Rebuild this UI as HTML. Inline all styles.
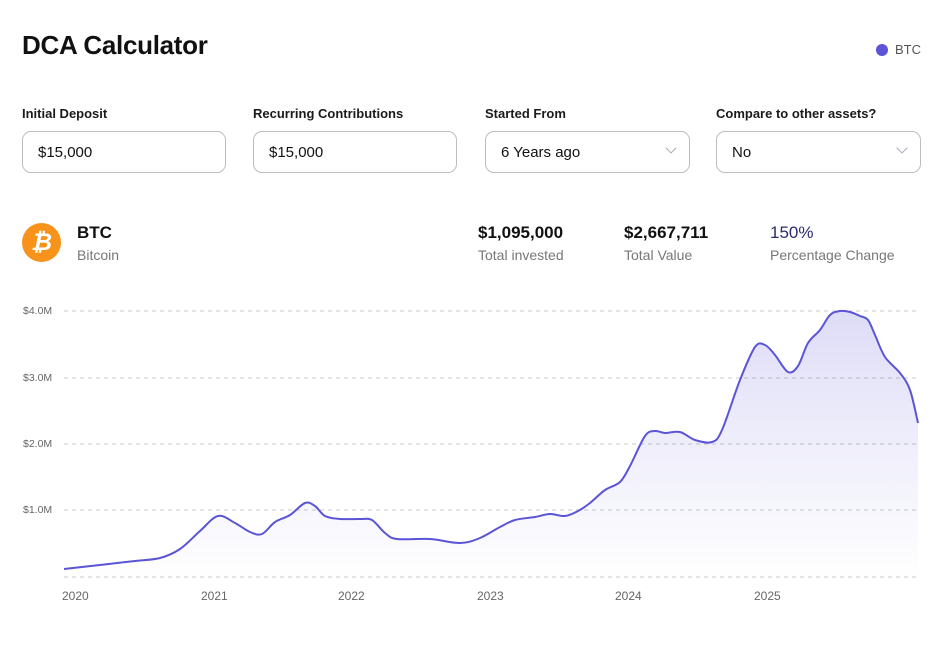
<!DOCTYPE html>
<html><head><meta charset="utf-8"><style>
body{margin:0;width:948px;height:645px;background:#fff;font-family:"Liberation Sans",sans-serif;position:relative;overflow:hidden;color:#111}
.a{position:absolute}
h1{position:absolute;left:22px;top:30px;margin:0;font-size:26px;font-weight:bold;color:#111;letter-spacing:-0.3px}
.lbl{font-size:13px;font-weight:bold;color:#1a1a1a;top:106px}
.box{top:131px;width:204px;height:42px;border:1px solid #bdbdbd;border-radius:9px;box-sizing:border-box;font-size:15px;padding:12px 15px;color:#111}
.chev{position:absolute;right:14px;top:12px;width:7px;height:7px;border-right:1.3px solid #aab;border-bottom:1.3px solid #aab;transform:rotate(45deg)}
.big{font-size:17px;font-weight:bold;top:223px}
.sub{font-size:14px;color:#777;top:247px}
.yl{font-size:10.5px;color:#666;left:23px}
.xl{font-size:12px;color:#666;top:589px}
</style></head><body>
<h1>DCA Calculator</h1>
<div class="a" style="left:876px;top:44px;width:12px;height:12px;border-radius:50%;background:#5b54d6"></div>
<div class="a" style="left:895px;top:42px;font-size:13px;color:#555">BTC</div>

<div class="a lbl" style="left:22px">Initial Deposit</div>
<div class="a lbl" style="left:253px">Recurring Contributions</div>
<div class="a lbl" style="left:485px">Started From</div>
<div class="a lbl" style="left:716px">Compare to other assets?</div>
<div class="a box" style="left:22px">$15,000</div>
<div class="a box" style="left:253px">$15,000</div>
<div class="a box" style="left:485px;width:205px">6 Years ago<span class="chev"></span></div>
<div class="a box" style="left:716px;width:205px">No<span class="chev"></span></div>

<div class="a" style="left:22px;top:223px;width:39px;height:39px;border-radius:50%;background:#f7931a;color:#fff;font-size:24px;font-weight:bold;text-align:center;line-height:39px;font-style:italic">₿</div>
<div class="a big" style="left:77px">BTC</div>
<div class="a sub" style="left:77px">Bitcoin</div>
<div class="a big" style="left:478px">$1,095,000</div>
<div class="a sub" style="left:478px">Total invested</div>
<div class="a big" style="left:624px">$2,667,711</div>
<div class="a sub" style="left:624px">Total Value</div>
<div class="a big" style="left:770px;color:#2b2a6e;font-weight:normal">150%</div>
<div class="a sub" style="left:770px">Percentage Change</div>

<div class="a yl" style="top:305px">$4.0M</div>
<div class="a yl" style="top:372px">$3.0M</div>
<div class="a yl" style="top:438px">$2.0M</div>
<div class="a yl" style="top:504px">$1.0M</div>
<div class="a xl" style="left:62px">2020</div>
<div class="a xl" style="left:201px">2021</div>
<div class="a xl" style="left:338px">2022</div>
<div class="a xl" style="left:477px">2023</div>
<div class="a xl" style="left:615px">2024</div>
<div class="a xl" style="left:754px">2025</div>

<svg class="a" style="left:0;top:0" width="948" height="645">
<defs><linearGradient id="g" x1="0" y1="0" x2="0" y2="1">
<stop offset="0" stop-color="#5b54d6" stop-opacity="0.2"/><stop offset="1" stop-color="#5b54d6" stop-opacity="0"/></linearGradient></defs>
<g stroke="#c8c8c8" stroke-dasharray="4,4" stroke-width="1">
<line x1="64" x2="918" y1="311" y2="311"/><line x1="64" x2="918" y1="378" y2="378"/>
<line x1="64" x2="918" y1="444" y2="444"/><line x1="64" x2="918" y1="510" y2="510"/>
<line x1="64" x2="918" y1="577" y2="577"/></g>
<path id="area" fill="url(#g)"/>
<path id="line" fill="none" stroke="#5b54d6" stroke-width="2"/>
</svg>
<script>
var p=[[64,569],[100,565],[135,561],[160,558],[180,549],[200,531],[218,516],[235,523],[250,532],[262,534],[275,522],[290,515],[305,503],[315,506],[325,516],[340,519],[360,519],[372,520],[385,533],[397,539],[430,539],[460,543],[480,538],[500,527],[515,520],[535,517],[550,514],[565,516],[578,511],[590,503],[605,490],[620,482],[630,466],[645,436],[655,431],[665,433],[680,432],[695,440],[712,442],[722,430],[740,380],[755,347],[765,345],[775,355],[788,372],[798,366],[808,343],[820,330],[830,315],[840,311],[850,312],[860,316],[868,320],[875,335],[885,357],[900,373],[910,390],[918,423]];
var d="M"+p[0];
for(var i=0;i<p.length-1;i++){var a=p[i-1]||p[i],b=p[i],c=p[i+1],e=p[i+2]||c;
d+=" C"+(b[0]+(c[0]-a[0])/6)+","+(b[1]+(c[1]-a[1])/6)+" "+(c[0]-(e[0]-b[0])/6)+","+(c[1]-(e[1]-b[1])/6)+" "+c;}
document.getElementById('line').setAttribute('d',d);
document.getElementById('area').setAttribute('d',d+" L918,577 L64,577 Z");
</script>
</body></html>
